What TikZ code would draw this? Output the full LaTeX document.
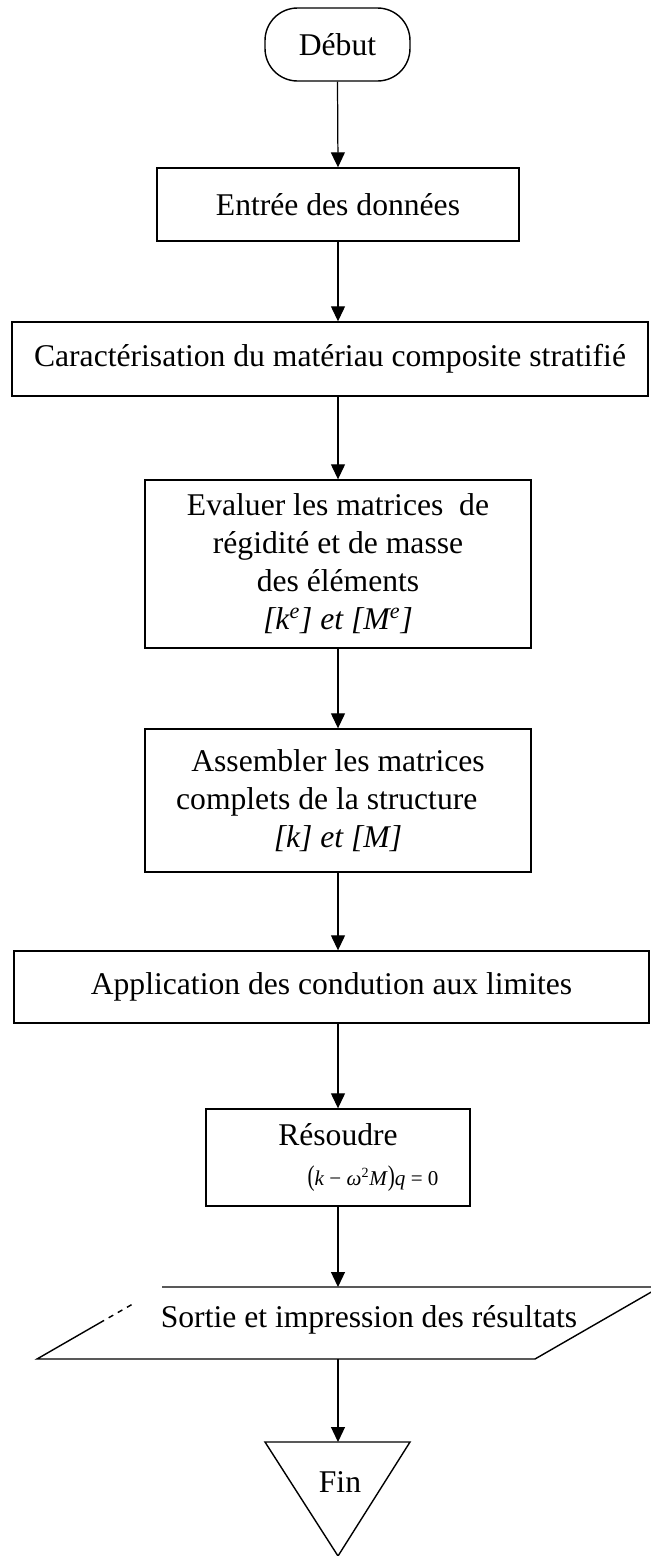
\documentclass[tikz,border=0pt]{standalone}
\usepackage{fontspec}
\setmainfont{Liberation Serif}
\usepackage{graphicx}
\usetikzlibrary{arrows.meta}

\begin{document}
\begin{tikzpicture}[x=0.02cm,y=-0.02cm,
    font=\fontsize{18}{21.6}\selectfont,
    bloc/.style={draw,line width=0.8pt,inner sep=0pt,align=center},
    fleche/.style={line width=0.7pt,-{Triangle[length=0.3cm,width=0.28cm]}}]
    \useasboundingbox (0,0) rectangle (650,1556);

    \node[bloc,rounded corners=0.65cm,minimum width=2.9cm,minimum height=1.46cm] (debut) at (337.5,44.5) {Début};
    \node[bloc,minimum width=7.24cm,minimum height=1.46cm] (entree) at (338,204.5) {Entrée des données};
    \node[bloc,minimum width=12.72cm,minimum height=1.48cm] (carac) at (330,359) {Caractérisation du matériau composite stratifié};
    \node[bloc,minimum width=7.72cm,minimum height=3.36cm] (evaluer) at (338,564)
        {Evaluer les matrices~ de\\ régidité et de masse\\ des éléments\\ \textit{[k\textsuperscript{e}] et [M\textsuperscript{e}]}};
    \node[bloc,minimum width=7.72cm,minimum height=2.86cm] (assembler) at (338,800.5)
        {Assembler les matrices\\ complets de la structure\hspace*{0.45cm}\mbox{}\\ \textit{[k] et [M]}};
    \node[bloc,minimum width=12.7cm,minimum height=1.44cm] (application) at (331.5,987) {Application des condution aux limites};
    \node[bloc,minimum width=5.28cm,minimum height=1.94cm] (resoudre) at (338,1157.5)
        {Résoudre\\[1pt] \hspace*{1.4cm}{\fontsize{12}{14}\selectfont\scalebox{1}[1.35]{(}\textit{k} − \textit{ω}\textsuperscript{2}\textit{M}\scalebox{1}[1.35]{)}\textit{q} = 0}};

    % sortie (parallelogramme, bord droit coupe)
    \coordinate (sortieN) at (338,1287);
    \coordinate (sortieS) at (338,1359);
    \draw[line width=0.8pt] (99.5,1323) -- (37,1359) -- (535,1359) -- (660,1287) -- (162,1287);
    \draw[line width=0.8pt,dashed] (99.5,1323) -- (134.5,1303);
    \node (sortie) at (369,1320) {Sortie et impression des résultats};

    % fin
    \coordinate (finN) at (338,1442);
    \draw[line width=0.8pt] (265,1442) -- (410,1442) -- (338,1556) -- cycle;
    \node (fin) at (340,1482) {Fin};

    \draw[fleche] (debut.south) -- (entree.north);
    \draw[fleche] (entree.south) -- (entree.south |- carac.north);
    \draw[fleche] (entree.south |- carac.south) -- (evaluer.north);
    \draw[fleche] (evaluer.south) -- (assembler.north);
    \draw[fleche] (assembler.south) -- (assembler.south |- application.north);
    \draw[fleche] (assembler.south |- application.south) -- (resoudre.north);
    \draw[fleche] (resoudre.south) -- (sortieN);
    \draw[fleche] (sortieS) -- (finN);
\end{tikzpicture}
\end{document}
